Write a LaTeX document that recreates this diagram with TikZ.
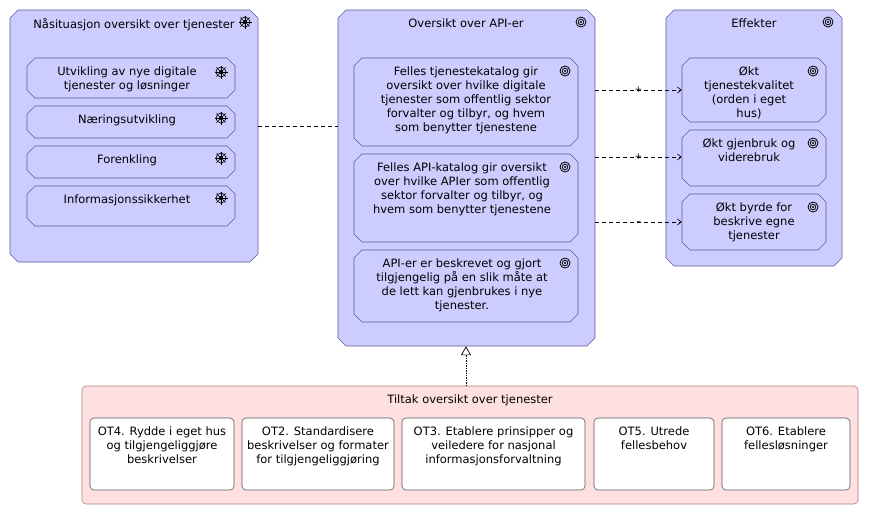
\documentclass[tikz,border=0pt]{standalone}
\usepackage{fontspec}
\setmainfont{DejaVu Sans}
\usetikzlibrary{arrows.meta}
\definecolor{mot}{HTML}{CCCCFF}
\definecolor{mline}{HTML}{5C5C99}
\definecolor{pink}{HTML}{FFE0E0}
\definecolor{pline}{HTML}{B27F7F}
\tikzset{
 oct/.style={draw=mline, fill=mot, line width=0.6pt},
 txt/.style={font=\fontsize{11.5}{14}\selectfont, align=center, anchor=north},
 wk/.style={draw=gray!70!black, fill=white, rounded corners=4pt, line width=0.6pt},
 dep/.style={densely dashed, dash pattern=on 4pt off 3pt, line width=0.6pt, -{Straight Barb[length=4pt,width=6pt]}},
}
\newcommand{\target}[1]{\draw[line width=0.8pt] #1 circle (5pt) #1 circle (2.8pt); \fill #1 circle (1.2pt);}
\newcommand{\wheel}[1]{\begin{scope}[shift={#1}]\draw[line width=0.7pt] (0,0) circle (5pt); \foreach \a in {0,45,...,315} \draw[line width=0.6pt] (0,0) -- (\a:6.5pt); \fill (0,0) circle (2pt);\end{scope}}
\newcommand{\ob}[5]{\draw[oct] ({#1+8},#2) -- ({#3-8},#2) -- (#3,{#2+8}) -- (#3,{#4-8}) -- ({#3-8},#4) -- ({#1+8},#4) -- (#1,{#4-8}) -- (#1,{#2+8}) -- cycle;
\pgfmathsetmacro\obw{#3-#1}\pgfmathsetmacro\obh{#4-#2}\node[inner sep=0pt, minimum width=\obw pt, minimum height=\obh pt] (#5) at ({(#1+#3)/2},{(#2+#4)/2}) {};}
\begin{document}
\begin{tikzpicture}[x=1pt,y=-1pt]
\useasboundingbox (0,0) rectangle (869,515);
% outer
\ob{10}{10}{258}{262}{L}
\ob{338}{10}{595}{346}{M}
\ob{666}{10}{842}{266}{R}
\node[txt] at (134,15) {Nåsituasjon oversikt over tjenester};
\wheel{(245,22)}
\node[txt] at (466,15) {Oversikt over API-er};
\target{(581,22)}
\node[txt] at (754,15) {Effekter};
\target{(828,22)}
% left inner
\ob{27}{58}{235}{98}{L1}
\ob{27}{106}{235}{138}{L2}
\ob{27}{146}{235}{178}{L3}
\ob{27}{186}{235}{226}{L4}
\node[txt] at (127,63) {Utvikling av nye digitale\\tjenester og løsninger};
\node[txt] at (127,111) {Næringsutvikling};
\node[txt] at (127,151) {Forenkling};
\node[txt] at (127,191) {Informasjonssikkerhet};
\foreach \y in {72,118,158,198} {\wheel{(221,\y)}}
% middle inner
\ob{354}{58}{578}{146}{M1}
\ob{354}{154}{578}{242}{M2}
\ob{354}{250}{578}{322}{M3}
\node[txt] at (466,63) {Felles tjenestekatalog gir\\oversikt over hvilke digitale\\tjenester som offentlig sektor\\forvalter og tilbyr, og hvem\\som benytter tjenestene};
\node[txt] at (462,159) {Felles API-katalog gir oversikt\\over hvilke APIer som offentlig\\sektor forvalter og tilbyr, og\\hvem som benytter tjenestene};
\node[txt] at (462,255) {API-er er beskrevet og gjort\\tilgjengelig på en slik måte at\\de lett kan gjenbrukes i nye\\tjenester.};
\target{(565,71)} \target{(565,167)} \target{(565,263)}
% right inner
\ob{682}{58}{826}{122}{R1}
\ob{682}{130}{826}{186}{R2}
\ob{682}{194}{826}{250}{R3}
\begin{scope}
\clip (682,58) rectangle (826,119);
\node[txt] at (749,63) {Økt\\tjenestekvalitet\\(orden i eget\\hus)};
\end{scope}
\node[txt] at (749,135) {Økt gjenbruk og\\viderebruk};
\node[txt] at (754,199) {Økt byrde for\\beskrive egne\\tjenester};
\target{(813,71)} \target{(813,143)} \target{(813,207)}
% connectors
\draw[densely dashed, dash pattern=on 4pt off 3pt, line width=0.6pt] (L.east |- 0,126) -- (M.west |- 0,126);
\draw[dep] (M.east |- 0,90) -- node[font=\small, inner sep=0pt]{+} (R1.west |- 0,90);
\draw[dep] (M.east |- 0,157) -- node[font=\small, inner sep=0pt]{+} (R2.west |- 0,157);
\draw[dep] (M.east |- 0,222) -- node[font=\small, inner sep=0pt, yshift=-1.5pt]{–} (R3.west |- 0,222);
% bottom
\node[draw=pline, fill=pink, rounded corners=4pt, minimum width=776pt, minimum height=118pt, line width=0.6pt] (B) at (470,445) {};
\node[txt] at (470,391) {Tiltak oversikt over tjenester};
\node[wk, minimum width=144pt, minimum height=72pt] (B1) at (162,454) {};
\node[wk, minimum width=152pt, minimum height=72pt] (B2) at (318,454) {};
\node[wk, minimum width=183pt, minimum height=72pt] (B3) at (493.5,454) {};
\node[wk, minimum width=120pt, minimum height=72pt] (B4) at (654,454) {};
\node[wk, minimum width=128pt, minimum height=72pt] (B5) at (786,454) {};
\node[txt] at (162,423) {OT4. Rydde i eget hus\\og tilgjengeliggjøre\\beskrivelser};
\node[txt] at (318,423) {OT2. Standardisere\\beskrivelser og formater\\for tilgjengeliggjøring};
\node[txt] at (493.5,423) {OT3. Etablere prinsipper og\\veiledere for nasjonal\\informasjonsforvaltning};
\node[txt] at (654,423) {OT5. Utrede\\fellesbehov};
\node[txt] at (786,423) {OT6. Etablere\\fellesløsninger};
\draw[densely dotted, line width=0.7pt, -{Triangle[open, length=9pt, width=10pt]}] (B.north -| 466,0) -- (M.south -| 466,0);
\end{tikzpicture}
\end{document}
